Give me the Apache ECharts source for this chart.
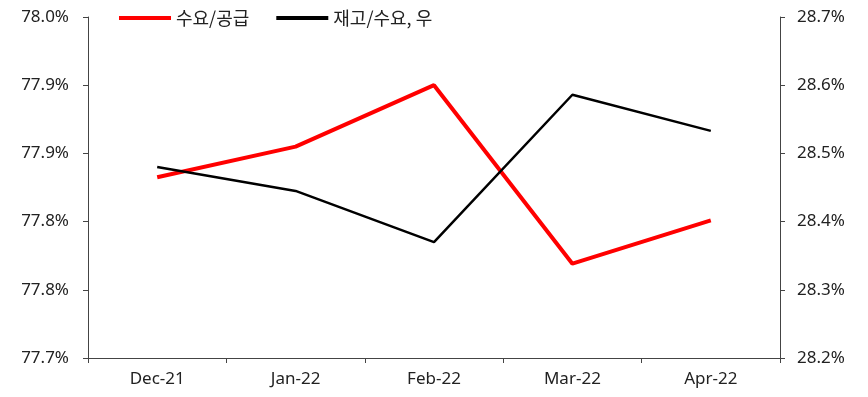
<!DOCTYPE html>
<html>
<head>
    <meta charset="UTF-8">
    <title>수요/공급</title>
    <script src="https://cdn.jsdelivr.net/npm/echarts@6/dist/echarts.min.js"></script>
    <style>
        html, body { margin: 0; padding: 0; background: #fff; }
        #chart { width: 868px; height: 397px; }
    </style>
</head>
<body>
    <div id="chart"></div>
    <script>
        var months = ['Dec-21', 'Jan-22', 'Feb-22', 'Mar-22', 'Apr-22'];
        var supplyDemand = [77.859, 77.886, 77.940, 77.783, 77.821];
        var stockDemand = [28.480, 28.445, 28.370, 28.586, 28.533];

        var font = '"Noto Sans", "Noto Sans CJK KR", sans-serif';
        var axisGray = '#444';

        var chart = echarts.init(document.getElementById('chart'), null, {renderer: 'canvas'});

        chart.setOption({
            animation: false,
            textStyle: {fontFamily: font},
            grid: {left: 88, right: 88, top: 17, bottom: 39},
            legend: {
                top: 4,
                left: 114,
                itemWidth: 52,
                itemHeight: 4,
                itemGap: 27,
                icon: 'rect',
                textStyle: {fontSize: 18, color: '#222', fontFamily: '"Noto Sans CJK KR", sans-serif'},
                data: ['수요/공급', '재고/수요, 우']
            },
            xAxis: {
                type: 'category',
                data: months,
                boundaryGap: true,
                axisLine: {lineStyle: {color: axisGray, width: 1}},
                axisTick: {show: true, length: 5, lineStyle: {color: axisGray}},
                axisLabel: {fontSize: 17, color: '#222', margin: 13},
                splitLine: {show: false}
            },
            yAxis: [{
                type: 'value',
                min: 77.70,
                max: 78.00,
                interval: 0.06,
                axisLine: {show: true, lineStyle: {color: axisGray}},
                axisTick: {show: true, length: 5, lineStyle: {color: axisGray}},
                axisLabel: {
                    fontSize: 17, color: '#222', margin: 19,
                    formatter: function (v) { return v.toFixed(1) + '%'; }
                },
                splitLine: {show: false}
            }, {
                type: 'value',
                min: 28.2,
                max: 28.7,
                interval: 0.1,
                position: 'right',
                axisLine: {show: true, lineStyle: {color: axisGray}},
                axisTick: {show: true, length: 5, lineStyle: {color: axisGray}},
                axisLabel: {
                    fontSize: 17, color: '#222', margin: 17,
                    formatter: function (v) { return v.toFixed(1) + '%'; }
                },
                splitLine: {show: false}
            }],
            series: [{
                name: '수요/공급',
                type: 'line',
                yAxisIndex: 0,
                data: supplyDemand,
                symbol: 'none',
                itemStyle: {color: '#ff0000'},
                lineStyle: {color: '#ff0000', width: 4}
            }, {
                name: '재고/수요, 우',
                type: 'line',
                yAxisIndex: 1,
                data: stockDemand,
                symbol: 'none',
                itemStyle: {color: '#000'},
                lineStyle: {color: '#000', width: 2.5}
            }]
        });
    </script>
</body>
</html>
